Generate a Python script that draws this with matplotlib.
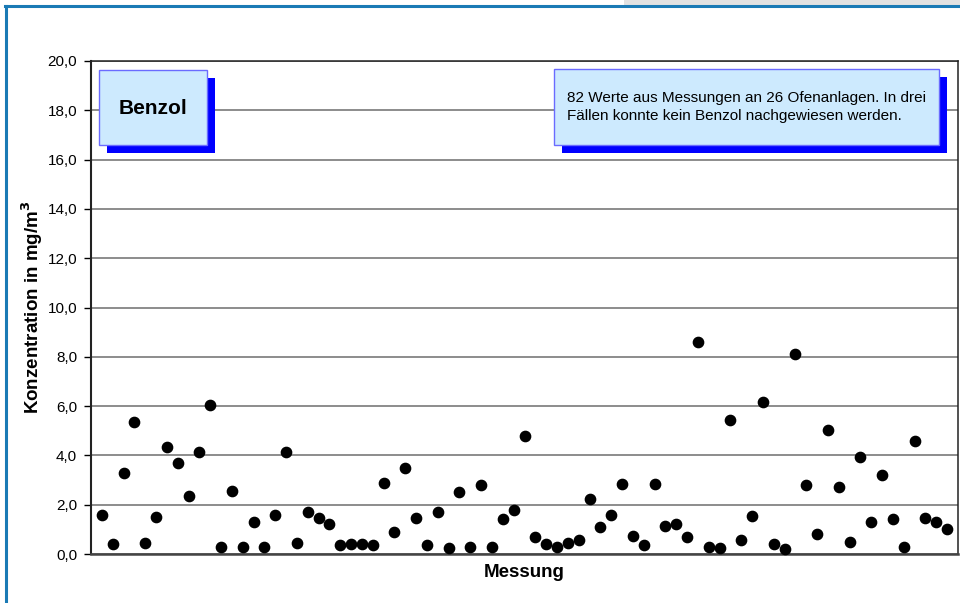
import matplotlib.pyplot as plt
from matplotlib.patches import Rectangle
from matplotlib.ticker import FuncFormatter

plt.rcParams['font.family'] = ['Liberation Sans', 'DejaVu Sans']

# Benzol-Konzentrationen (mg/m3), 79 nachgewiesene Werte
werte = [1.6, 0.4, 3.3, 5.35, 0.45, 1.5, 4.35, 3.7, 2.35, 4.15,
         6.05, 0.3, 2.55, 0.3, 1.3, 0.3, 1.6, 4.15, 0.45, 1.7,
         1.45, 1.2, 0.35, 0.4, 0.4, 0.35, 2.9, 0.9, 3.5, 1.45,
         0.35, 1.7, 0.25, 2.5, 0.3, 2.8, 0.3, 1.4, 1.8, 4.8,
         0.7, 0.4, 0.3, 0.45, 0.55, 2.25, 1.1, 1.6, 2.85, 0.75,
         0.35, 2.85, 1.15, 1.2, 0.7, 8.6, 0.3, 0.25, 5.45, 0.55,
         1.55, 6.15, 0.4, 0.2, 8.1, 2.8, 0.8, 5.05, 2.7, 0.5,
         3.95, 1.3, 3.2, 1.4, 0.3, 4.6, 1.45, 1.3, 1.0]
messung = list(range(1, len(werte) + 1))
yticks = [0, 2, 4, 6, 8, 10, 12, 14, 16, 18, 20]

titel = "Benzol"
hinweis = ("82 Werte aus Messungen an 26 Ofenanlagen. In drei\n"
           "Fällen konnte kein Benzol nachgewiesen werden.")

fig = plt.figure(figsize=(9.6, 6.03), dpi=100)
W, H = 960, 603

# outer frame (blue line top and left, grey strip in top right corner)
fig.patches.append(Rectangle((624 / W, 1 - 5 / H), 1, 5 / H, transform=fig.transFigure,
                             facecolor='#e2e2e2', edgecolor='none', zorder=0))
fig.lines.append(plt.Line2D([5 / W, 1], [1 - 5.5 / H, 1 - 5.5 / H], transform=fig.transFigure,
                            color='#1a7ab5', lw=2.2))
fig.lines.append(plt.Line2D([5.5 / W, 5.5 / W], [0, 1 - 5.5 / H], transform=fig.transFigure,
                            color='#1a7ab5', lw=2.2))

ax = fig.add_axes([91 / W, 49 / H, 867 / W, 493 / H])
ax.plot(messung, werte, 'o', color='black', markersize=7.4, zorder=3, clip_on=False)

ax.set_xlim(0, 80)
ax.set_ylim(0, 20)
ax.set_xticks([])
ax.set_yticks(yticks)
ax.yaxis.set_major_formatter(FuncFormatter(lambda v, p: f"{v:.1f}".replace('.', ',')))
ax.tick_params(axis='y', length=5, width=1, pad=5, labelsize=11)
ax.grid(axis='y', color='#6e6e6e', lw=1.1)
for s in ax.spines.values():
    s.set_color('#222222')
    s.set_linewidth(1.1)
ax.spines['left'].set_linewidth(1.5)
ax.spines['bottom'].set_linewidth(1.8)
ax.spines['bottom'].set_color('#444444')

ax.set_ylabel("Konzentration in mg/m$^\\mathbf{3}$", fontsize=13.5, fontweight='bold')
ax.yaxis.set_label_coords(-46 / 867, 0.5)
ax.set_xlabel("Messung", fontsize=13.5, fontweight='bold', labelpad=7)


def box(x0, y0, x1, y1):
    # shadow, then the light blue box, in pixel coords of the figure
    fig.patches.append(Rectangle(((x0 + 8) / W, 1 - (y1 + 8) / H), (x1 - x0) / W, (y1 - y0) / H,
                                 transform=fig.transFigure, facecolor='#0000ff',
                                 edgecolor='none', zorder=5))
    fig.patches.append(Rectangle((x0 / W, 1 - y1 / H), (x1 - x0) / W, (y1 - y0) / H,
                                 transform=fig.transFigure, facecolor='#cdeafe',
                                 edgecolor='#6b6bff', lw=1.0, zorder=6))


box(99, 70, 207, 145)
fig.text(153 / W, 1 - 108 / H, titel, ha='center', va='center', fontsize=15,
         fontweight='bold', zorder=7)
box(554, 69, 939, 145)
fig.text(567 / W, 1 - 107 / H, hinweis, ha='left', va='center', fontsize=11,
         linespacing=1.45, zorder=7)

fig.savefig('out.png', dpi=100)
